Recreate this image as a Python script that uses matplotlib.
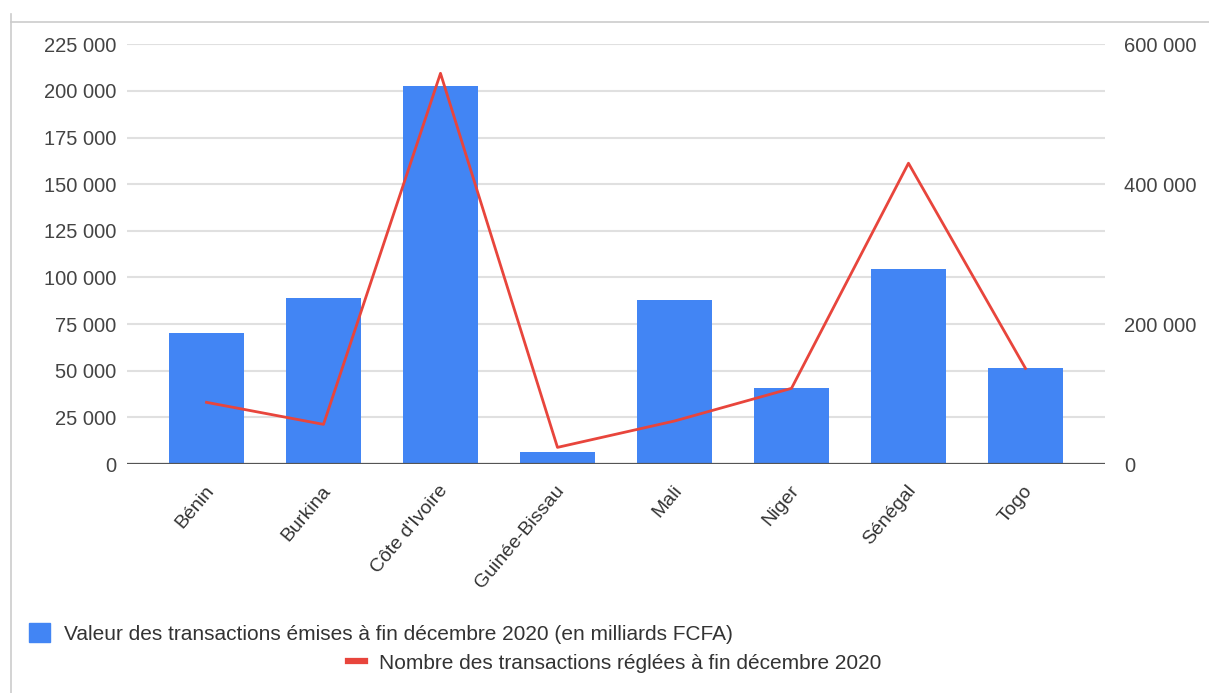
import matplotlib
matplotlib.use("Agg")
import matplotlib.pyplot as plt
import matplotlib.transforms as mtransforms
from matplotlib.lines import Line2D
from matplotlib.patches import Patch
from matplotlib.ticker import FuncFormatter

plt.rcParams['font.family'] = ['Liberation Sans', 'DejaVu Sans']

# UEMOA countries, end of December 2020
pays = ["Bénin", "Burkina", "Côte d'Ivoire", "Guinée-Bissau",
        "Mali", "Niger", "Sénégal", "Togo"]
valeur = [70000, 89000, 202500, 6600, 88000, 41000, 104500, 51700]
nombre = [88200, 56700, 558500, 23800, 61500, 108200, 430000, 136800]

lab_valeur = "Valeur des transactions émises à fin décembre 2020 (en milliards FCFA)"
lab_nombre = "Nombre des transactions réglées à fin décembre 2020"

bleu = "#4285f4"
rouge = "#e8453c"
gris = "#444444"

def espace_milliers(v, pos=None):
    return f"{v:,.0f}".replace(",", " ")

fig = plt.figure(figsize=(12.09, 6.93), dpi=100)
ax = fig.add_axes([0.105, 0.3304, 0.809, 0.6057])
ax2 = ax.twinx()

x = range(len(pays))
ax.bar(x, valeur, width=0.64, color=bleu, zorder=2)
ax2.plot(x, nombre, color=rouge, lw=2.0, zorder=3)

ax.set_xlim(-0.68, len(pays) - 1 + 0.68)
ax.set_ylim(0, 225000)
ax.set_yticks(range(0, 225001, 25000))
ax2.set_ylim(0, 600000)
ax2.set_yticks([0, 200000, 400000, 600000])
ax.yaxis.set_major_formatter(FuncFormatter(espace_milliers))
ax2.yaxis.set_major_formatter(FuncFormatter(espace_milliers))

ax.grid(axis='y', color='#e0e0e0', lw=1.5, zorder=0)
ax.set_axisbelow(True)
for a in (ax, ax2):
    for s in a.spines.values():
        s.set_visible(False)
ax.axhline(0, color='#555555', lw=1.6, zorder=4)

ax.tick_params(axis='y', length=0, pad=7.5, labelsize=14.5, labelcolor=gris)
ax2.tick_params(axis='y', length=0, pad=14, labelsize=14.5, labelcolor=gris)
ax.tick_params(axis='x', length=0, pad=17)
ax.set_xticks(list(x))
ax.set_xticklabels(pays, rotation=50, ha='right', va='center',
                   rotation_mode='anchor', fontsize=14, color='#333333')
decal = mtransforms.ScaledTranslation(3 / 72, 0, fig.dpi_scale_trans)
for t in ax.get_xticklabels():
    t.set_transform(t.get_transform() + decal)
ax2.set_zorder(ax.get_zorder() + 1)
ax2.patch.set_visible(False)

# legend, one entry per row
fig.legend(handles=[Patch(color=bleu)], labels=[lab_valeur],
           loc='center left', bbox_to_anchor=(0.0083, 0.086), frameon=False,
           fontsize=15, handlelength=1.0, handleheight=1.05, handletextpad=0.67,
           labelcolor='#333333')
fig.legend(handles=[Line2D([], [], color=rouge, lw=4.5)], labels=[lab_nombre],
           loc='center left', bbox_to_anchor=(0.2725, 0.043), frameon=False,
           fontsize=15, handlelength=0.8, handletextpad=0.67,
           labelcolor='#333333')

# frame lines along top and left edge
fig.add_artist(Line2D([0.0095, 1.0], [0.968, 0.968], color='#cccccc', lw=1.2))
fig.add_artist(Line2D([0.0095, 0.0095], [0.0, 0.98], color='#cccccc', lw=1.2))

fig.savefig("out.png", dpi=100)
